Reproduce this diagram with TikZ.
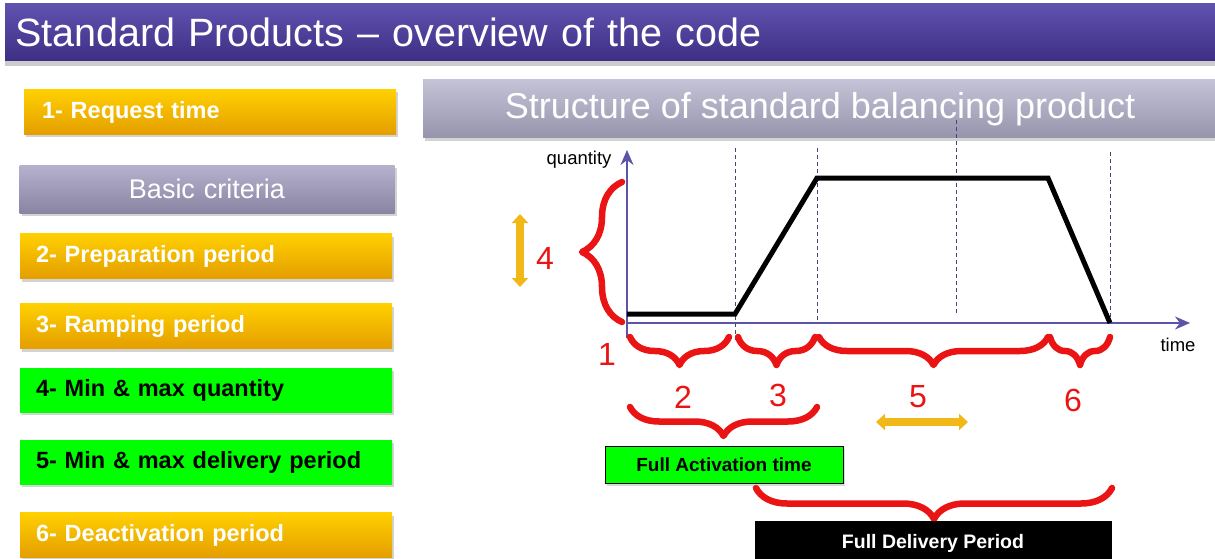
\documentclass[tikz,border=0pt]{standalone}
\usepackage{fontspec}
\setmainfont{Liberation Sans}
\usetikzlibrary{arrows.meta,decorations.pathreplacing,shadows}

\definecolor{barTop}{RGB}{96,82,176}
\definecolor{barBot}{RGB}{62,46,132}
\definecolor{goldTop}{RGB}{255,208,0}
\definecolor{goldBot}{RGB}{228,158,0}
\definecolor{lilacTop}{RGB}{182,178,206}
\definecolor{lilacBot}{RGB}{136,132,162}
\definecolor{greyTop}{RGB}{196,194,214}
\definecolor{greyBot}{RGB}{150,148,172}
\definecolor{critGreen}{RGB}{0,255,0}
\definecolor{braceRed}{RGB}{235,20,20}
\definecolor{axisBlue}{RGB}{92,84,168}
\definecolor{hintOrange}{RGB}{242,184,24}
\definecolor{guideGrey}{RGB}{70,70,110}

\begin{document}
\begin{tikzpicture}[x=1pt,y=-1pt,
  ybox/.style={shape=rectangle, minimum width=372pt, minimum height=45pt,
    text width=340pt, align=left, inner sep=0pt, top color=goldTop, bottom color=goldBot,
    text=white, font=\fontsize{23.5}{27}\selectfont\bfseries,
    drop shadow={opacity=0.35, shadow xshift=2pt, shadow yshift=-3pt}},
  gbox/.style={ybox, top color=critGreen, bottom color=critGreen, text=black},
  rbrace/.style={decorate, decoration={brace, amplitude=#1}},
  rbrace/.default=28pt,
  rnum/.style={text=braceRed, font=\fontsize{32}{36}\selectfont},
  guide/.style={draw=guideGrey, line width=0.8pt, dash pattern=on 4pt off 3pt},
  axis/.style={draw=axisBlue, line width=1.2pt, -{Stealth[length=15pt,width=13pt]}},
  hint/.style={draw=hintOrange, line width=8pt,
    {Triangle[length=9pt,width=16pt]}-{Triangle[length=9pt,width=16pt]}}]

\useasboundingbox (0,0) rectangle (1215,559);

% title bar
\path (610,32) node (title) [shape=rectangle, minimum width=1210pt, minimum height=57pt,
  text width=1190pt, align=left, inner sep=0pt, top color=barTop, bottom color=barBot,
  text=white, font=\fontsize{39.5}{44}\selectfont,
  drop shadow={opacity=0.4, shadow xshift=0pt, shadow yshift=-6pt}]
  {Standard Products -- overview of the code};

% criteria on the left
\path (210,112) node (req) [ybox, text width=336pt] {1- Request time};
\path (207,189) node (basic) [ybox, top color=lilacTop, bottom color=lilacBot,
  minimum width=375pt, minimum height=48pt, align=center, font=\fontsize{27}{31}\selectfont]
  {Basic criteria};
\path (206,256) node (prep) [ybox] {2- Preparation period};
\path (206,326) node (ramp) [ybox] {3- Ramping period};
\path (206,390) node (qty) [gbox, minimum height=44pt] {4- Min \& max quantity};
\path (206,462) node (deliv) [gbox, minimum height=44pt] {5- Min \& max delivery period};
\path (206,535) node (deact) [ybox] {6- Deactivation period};

% structure heading
\path (820,109) node (struct) [shape=rectangle, minimum width=794pt, minimum height=58pt,
  inner sep=0pt, top color=greyTop, bottom color=greyBot, text=white,
  font=\fontsize{36}{40}\selectfont,
  drop shadow={opacity=0.35, shadow xshift=2pt, shadow yshift=-3pt}]
  {Structure of standard balancing product};

% axes
\coordinate (O) at (627,323);
\coordinate (Ylow) at (627,338);
\coordinate (Ytop) at (627,150);
\coordinate (Xend) at (1190,323);
\draw [draw=axisBlue, line width=1.2pt] (Ylow) -- (O);
\draw [axis] (O) -- (Ytop);
\draw [axis] (O) -- (Xend);
\path (Ytop) node (qlab) [anchor=east, xshift=-12pt, yshift=-10pt, font=\fontsize{18.5}{21}\selectfont] {quantity};
\path (1178,345) node (tlab) [font=\fontsize{18.5}{21}\selectfont] {time};

% guide lines
\coordinate (A) at (735,314);
\coordinate (B) at (817,178);
\coordinate (C) at (1048,178);
\coordinate (D) at (1110,323);
\draw [guide] (735,148) -- (735,340);
\draw [guide] (817,148) -- (817,323);
\draw [guide] (956,120) -- (956,313);
\draw [guide] (1110,152) -- (1110,323);

% product profile
\draw [line width=5pt, line join=miter] (627,314) -- (A) -- (B) -- (C) -- (D);

% red braces
\begin{scope}[draw=braceRed, line width=6.5pt, line cap=round, line join=round]
\draw [rbrace=40pt] (622,322) -- (622,182);
\draw [rbrace, decoration={mirror}] (630,337) -- (729,337);
\draw [rbrace, decoration={mirror}] (738,337) -- (815,337);
\draw [rbrace, decoration={mirror}] (819,337) -- (1048,337);
\draw [rbrace, decoration={mirror}] (1050,337) -- (1110,337);
\draw [rbrace=29pt, decoration={mirror}] (630,407) -- (817,407);
\draw [rbrace=31pt, decoration={mirror}] (756,488) -- (1112,488);
\end{scope}

% numbers and hints
\path (545,258) node (n4) [rnum] {4};
\draw [hint] (520,214) -- (520,287);
\path (607,354) node (n1) [rnum] {1};
\path (683,397) node (n2) [rnum] {2};
\path (778,395) node (n3) [rnum] {3};
\path (918,397) node (n5) [rnum] {5};
\path (1073,400) node (n6) [rnum] {6};
\draw [hint] (876,422) -- (968,422);

% activation and delivery
\path (724,465) node (act) [shape=rectangle, draw=black, line width=1pt, fill=critGreen,
  minimum width=238pt, minimum height=37pt, font=\fontsize{19}{22}\selectfont\bfseries,
  drop shadow={opacity=0.3, shadow xshift=2pt, shadow yshift=-2pt}]
  {Full Activation time};
\path (933,543) node (full) [shape=rectangle, fill=black, text=white,
  minimum width=357pt, minimum height=44pt, font=\fontsize{19.5}{22}\selectfont\bfseries]
  {Full Delivery Period};

\end{tikzpicture}
\end{document}
